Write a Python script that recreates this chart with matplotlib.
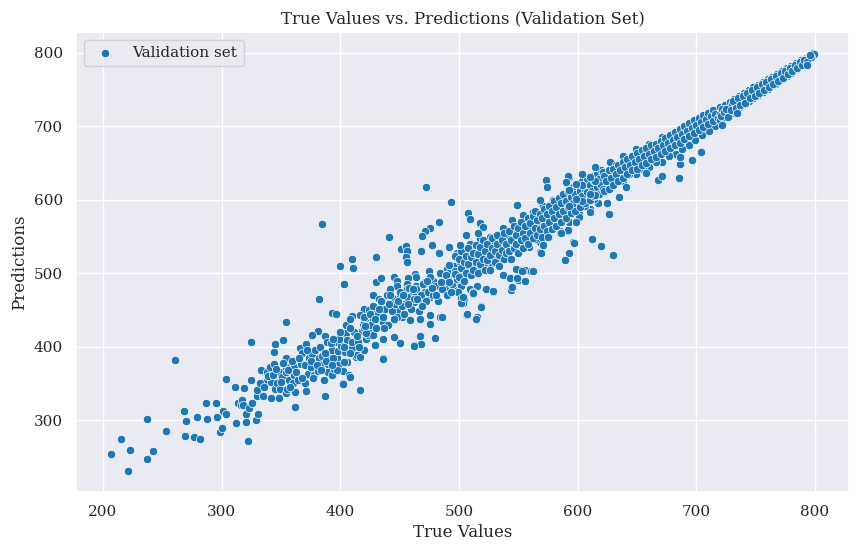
import matplotlib.pyplot as plt
import numpy as np
import seaborn as sns

# (true value, prediction) pairs, grouped by region
sparse_low = [
    (207, 254), (215, 274), (221, 231), (223, 259), (237, 247), (237, 302),
    (242, 258), (253, 285), (261, 382), (268, 313), (269, 279), (270, 299),
    (277, 277), (279, 304), (282, 274), (287, 323), (288, 302), (295, 324),
    (296, 304), (299, 284), (300, 289), (301, 313), (304, 309), (304, 356),
    (311, 345), (312, 296), (314, 324), (316, 321), (317, 327), (318, 320),
    (319, 344), (321, 297), (321, 308), (322, 272), (323, 317), (325, 354),
    (326, 324), (329, 300), (330, 333), (331, 308),
]

cluster_mid = [
    (330, 341), (333, 368), (335, 333), (338, 353), (338, 365), (341, 372),
    (342, 330), (342, 352), (344, 376), (345, 343), (347, 351), (348, 330),
    (349, 343), (349, 365), (351, 359), (354, 337), (354, 384), (354, 365),
    (354, 373), (355, 342), (357, 354), (360, 351), (361, 362), (361, 373),
    (362, 338), (364, 354), (367, 376), (366, 398), (368, 391), (370, 350),
    (370, 375), (371, 340), (371, 404), (373, 363), (374, 384), (375, 373),
    (376, 390), (378, 362), (381, 367), (382, 385), (385, 388), (385, 375),
    (386, 354), (387, 414), (389, 406), (390, 366), (390, 377), (391, 389),
    (393, 362), (393, 395), (396, 406), (397, 385), (398, 375), (398, 394),
    (400, 416), (401, 401), (402, 367), (404, 393), (405, 419), (406, 409),
    (406, 379), (410, 398), (410, 406), (410, 423), (410, 442), (413, 386),
    (414, 389), (415, 406), (417, 386), (418, 444), (418, 421), (419, 429),
    (420, 395), (420, 435), (422, 411), (423, 416), (423, 447), (425, 438),
    (427, 427), (428, 416), (429, 402), (429, 447),
    (332, 350), (336, 345), (339, 360), (343, 362), (346, 370), (350, 352),
    (352, 378), (356, 368), (358, 345), (359, 380), (363, 366), (365, 385),
    (368, 358), (372, 395), (375, 380), (377, 358), (379, 395), (380, 375),
    (383, 400), (384, 368), (387, 392), (388, 380), (392, 405), (394, 385),
    (395, 370), (399, 410), (403, 400), (405, 430), (408, 392), (412, 420),
    (416, 400), (419, 440), (424, 425), (427, 440),
]

band_a = [
    (463, 499), (475, 503), (484, 499), (490, 506), (496, 507), (445, 495),
    (448, 489), (457, 493), (430, 488), (434, 493),
    (428, 470), (433, 465), (439, 471), (446, 465), (450, 470), (458, 474),
    (464, 472), (471, 474), (477, 481), (484, 483), (491, 493), (498, 488),
    (506, 497), (515, 502), (511, 511), (504, 520), (498, 527), (509, 538),
    (420, 452), (425, 443), (434, 452), (441, 456), (448, 449), (455, 459),
    (462, 461), (469, 463), (476, 468), (481, 472), (488, 479), (495, 479),
    (502, 483), (509, 479), (515, 483),
    (408, 438), (417, 443), (428, 438), (436, 434), (445, 436), (452, 440),
    (459, 436), (467, 438), (476, 443), (484, 440), (476, 431), (467, 415),
    (462, 402), (480, 412), (436, 411), (445, 413), (450, 405), (429, 402),
    (436, 384), (403, 379), (407, 361), (402, 350), (397, 368), (393, 375),
    (394, 411), (400, 420), (408, 425), (414, 415), (420, 425), (425, 429),
    (504, 465), (499, 474), (512, 474), (502, 461), (506, 443), (514, 438),
    (448, 483), (456, 486), (464, 483), (471, 488), (478, 490), (487, 497),
    (494, 502), (501, 504), (508, 513), (515, 520), (464, 495), (456, 479),
    (442, 479),
]

fill_a = [
    (420, 440), (422, 418), (424, 450), (426, 430), (428, 455), (430, 425),
    (432, 445), (434, 462), (436, 440), (438, 452), (440, 430), (442, 470),
    (444, 448), (446, 458), (448, 440), (450, 475), (452, 455), (454, 445),
    (456, 468), (458, 480), (460, 452), (462, 465), (464, 478), (466, 448),
    (468, 470), (470, 485), (472, 462), (474, 475), (476, 495), (478, 470),
    (480, 482), (482, 462), (484, 500), (486, 478), (488, 490), (490, 470),
    (492, 500), (494, 485), (496, 510), (498, 492),
    (421, 428), (425, 445), (429, 438), (433, 452), (437, 425), (441, 458),
    (445, 438), (449, 462), (453, 470), (457, 458), (461, 478), (465, 465),
    (469, 455), (473, 490), (477, 480), (481, 470), (485, 488), (489, 498),
    (493, 475), (497, 503),
]

band_b = [
    (492, 536), (501, 538), (509, 540), (518, 547), (526, 549), (537, 561),
    (545, 572), (554, 579), (562, 583), (571, 592), (579, 600), (587, 606),
    (596, 615), (604, 622), (613, 628), (618, 635),
    (492, 511), (501, 515), (509, 522), (518, 527), (526, 531), (534, 540),
    (543, 547), (551, 554), (559, 561), (568, 567), (576, 576), (585, 584),
    (593, 594), (601, 602), (610, 610), (617, 618),
    (492, 488), (501, 493), (509, 499), (518, 506), (526, 511), (534, 518),
    (543, 520), (551, 529), (559, 536), (568, 542), (576, 549), (585, 558),
    (593, 570), (601, 580), (610, 588), (617, 596),
    (497, 524), (505, 529), (513, 533), (522, 538), (530, 542), (539, 552),
    (547, 561), (555, 565), (564, 572), (572, 580), (580, 588), (589, 596),
    (597, 604), (606, 613), (614, 621),
    (497, 499), (505, 504), (513, 511), (522, 515), (530, 522), (539, 529),
    (547, 533), (555, 540), (564, 547), (572, 556), (580, 564), (589, 574),
    (597, 584), (606, 592), (614, 601),
    (537, 497), (543, 493), (550, 491), (556, 489), (551, 504), (556, 505),
    (561, 503), (548, 506), (545, 481), (544, 477), (523, 478), (529, 475),
    (512, 472), (502, 466), (503, 459), (507, 443), (515, 440), (519, 455),
    (571, 537), (568, 529), (589, 518), (593, 527), (599, 570), (601, 576),
    (592, 558), (585, 555), (575, 549), (596, 542), (612, 547),
]

fill_b = [
    (500, 495), (500, 520), (502, 507), (502, 530), (504, 490), (504, 515),
    (506, 524), (506, 500), (508, 535), (508, 512), (510, 497), (510, 522),
    (512, 528), (512, 505), (514, 538), (514, 516), (516, 500), (516, 526),
    (518, 536), (518, 512), (520, 520), (520, 545), (522, 505), (522, 530),
    (524, 540), (524, 518), (526, 525), (526, 505), (528, 548), (528, 535),
    (530, 515), (530, 530), (532, 552), (532, 540), (534, 525), (534, 510),
    (536, 545), (536, 532), (538, 520), (538, 555), (540, 540), (540, 528),
    (542, 558), (542, 530), (544, 545), (544, 520), (546, 535), (546, 565),
    (548, 552), (548, 540), (550, 528), (550, 562), (552, 545), (552, 570),
    (554, 535), (554, 555), (556, 565), (556, 548), (558, 575), (558, 540),
    (560, 555), (560, 568), (562, 548), (562, 578), (564, 562), (564, 585),
    (566, 552), (566, 572), (568, 580), (568, 560), (570, 575), (570, 550),
    (572, 565), (572, 588), (574, 558), (574, 580), (576, 592), (576, 570),
    (578, 560), (578, 585), (580, 575), (580, 598), (582, 565), (582, 590),
    (584, 580), (584, 602), (586, 570), (586, 595), (588, 585), (588, 608),
    (590, 575), (590, 598), (592, 590), (592, 612), (594, 582), (594, 604),
    (596, 595), (596, 618), (598, 585), (598, 608), (600, 600), (600, 620),
    (602, 590), (602, 612), (604, 605), (604, 625), (606, 595), (606, 615),
    (608, 610), (608, 628), (610, 600), (610, 620), (612, 612), (612, 632),
    (614, 605), (614, 625), (616, 618), (616, 635), (618, 608), (618, 628),
    (620, 620), (620, 640),
]

band_c = [
    (593, 631), (604, 635), (615, 644), (627, 651), (638, 660), (649, 669),
    (660, 676), (671, 685), (683, 694), (694, 703), (705, 713), (716, 722),
    (593, 613), (604, 620), (615, 626), (627, 635), (638, 644), (649, 654),
    (660, 660), (671, 669), (683, 678), (694, 688), (705, 699), (716, 713),
    (593, 592), (604, 599), (615, 606), (627, 617), (638, 626), (649, 635),
    (660, 644), (671, 651), (683, 663), (694, 674), (705, 688), (716, 701),
    (599, 622), (610, 631), (621, 638), (632, 647), (643, 656), (655, 665),
    (666, 672), (677, 681), (688, 690), (699, 699), (711, 708),
    (599, 601), (610, 608), (621, 615), (632, 626), (643, 635), (655, 642),
    (666, 651), (677, 660), (688, 669), (699, 681), (711, 694),
]

fill_c = [
    (622, 612), (622, 632), (624, 625), (626, 615), (626, 640), (628, 630),
    (630, 620), (630, 642), (632, 635), (634, 625), (634, 648), (636, 640),
    (638, 630), (638, 652), (640, 645), (642, 635), (642, 655), (644, 648),
    (646, 640), (646, 660), (648, 652), (650, 642), (650, 664), (652, 655),
    (654, 648), (654, 668), (656, 660), (658, 650), (658, 670), (660, 662),
    (662, 655), (662, 674), (664, 666), (666, 658), (666, 676), (668, 670),
    (670, 662), (670, 680), (672, 674), (674, 666), (674, 684), (676, 678),
    (678, 670), (678, 688), (680, 682), (682, 674), (682, 692), (684, 686),
    (686, 678), (686, 696), (688, 690), (690, 683), (690, 700), (692, 694),
    (694, 687), (694, 704), (696, 698), (698, 691), (698, 708), (700, 702),
    (702, 695), (702, 712), (704, 706), (706, 699), (706, 715), (708, 710),
    (710, 703), (710, 718), (712, 714), (714, 707), (714, 722), (716, 717),
    (718, 711),
]

band_d = [
    (720, 726), (720, 717), (720, 709), (724, 729), (724, 721), (724, 713),
    (728, 733), (728, 725), (728, 717), (732, 737), (732, 729), (732, 721),
    (736, 741), (736, 733), (736, 726), (740, 745), (740, 737), (740, 730),
    (744, 749), (744, 741), (744, 735), (748, 753), (748, 745), (748, 739),
    (752, 756), (752, 749), (752, 743), (756, 760), (756, 753), (756, 747),
    (760, 764), (760, 757), (760, 751), (764, 767), (764, 761), (764, 756),
    (768, 771), (768, 765), (768, 760), (772, 775), (772, 769), (772, 764),
    (776, 779), (776, 773), (776, 769), (780, 782), (780, 777), (780, 773),
    (784, 786), (784, 781), (784, 778), (788, 790), (788, 786), (788, 783),
    (792, 793), (792, 789), (795, 796), (795, 793), (798, 800), (798, 797),
    (799, 799),
    (722, 723), (726, 719), (730, 731), (734, 727), (738, 739), (742, 735),
    (746, 747), (750, 743), (754, 755), (758, 751), (762, 763), (766, 758),
    (770, 770), (774, 767), (778, 778), (782, 779), (786, 785), (790, 787),
    (794, 792), (797, 795),
    (721, 714), (723, 719), (725, 724), (727, 713), (729, 722), (731, 734),
    (733, 725), (735, 738), (737, 729), (739, 742), (741, 732), (743, 746),
    (745, 738), (747, 750), (749, 742), (751, 753), (753, 745), (755, 757),
    (757, 749), (759, 760), (761, 754), (763, 765), (765, 758), (767, 768),
    (769, 762), (771, 772), (773, 766), (775, 776), (777, 771), (779, 780),
    (781, 775), (783, 784), (785, 779), (787, 788), (789, 784), (791, 791),
    (793, 788), (796, 797),
]

outliers = [
    (385, 567), (400, 510), (410, 519), (411, 507), (403, 485), (382, 465),
    (393, 446), (396, 445), (354, 434), (381, 422), (376, 416), (352, 409),
    (345, 404), (344, 393), (325, 406), (387, 333), (417, 341), (408, 359),
    (402, 349), (362, 318),
    (472, 617), (493, 597), (508, 582), (509, 574), (483, 570), (476, 561),
    (471, 557), (469, 551), (441, 549), (451, 533), (455, 537), (456, 530),
    (455, 522), (456, 515), (468, 530), (477, 538), (483, 528), (430, 522),
    (436, 383), (480, 412), (467, 415), (468, 404), (462, 401), (450, 405),
    (507, 444), (514, 438), (519, 454), (502, 460), (503, 467), (523, 479),
    (529, 476), (512, 473), (486, 440),
    (537, 498), (543, 493), (545, 481), (549, 493), (553, 503), (562, 503),
    (549, 593), (573, 627), (574, 617), (568, 600), (592, 632), (590, 624),
    (518, 569), (520, 563), (516, 555), (506, 552), (501, 539),
    (612, 547), (620, 537), (630, 525), (597, 541), (593, 528), (589, 518),
    (610, 583), (626, 581), (625, 596), (592, 559), (586, 555), (599, 570),
    (569, 527), (571, 538), (575, 549),
    (635, 604), (641, 617), (658, 637), (668, 627), (671, 632), (685, 630),
    (686, 649), (686, 658), (696, 654), (704, 665), (722, 702), (734, 718),
    (793, 783),
]

groups = [sparse_low, cluster_mid, band_a, fill_a, band_b, fill_b,
          band_c, fill_c, band_d, outliers]
pts = np.array([p for g in groups for p in g], dtype=float)
true_vals = pts[:, 0]
predictions = pts[:, 1]

sns.set_theme(style='darkgrid', font='serif')

fig = plt.figure(figsize=(8.6, 5.53), dpi=100)
ax = fig.add_axes([0.0884, 0.1108, 0.8988, 0.8313])

sns.scatterplot(x=true_vals, y=predictions, color='#1f77b4',
                label='Validation set', ax=ax)

ax.set_title('True Values vs. Predictions (Validation Set)')
ax.set_xlabel('True Values')
ax.set_ylabel('Predictions')
ax.legend(loc='upper left')

fig.savefig('out.png', dpi=100)
